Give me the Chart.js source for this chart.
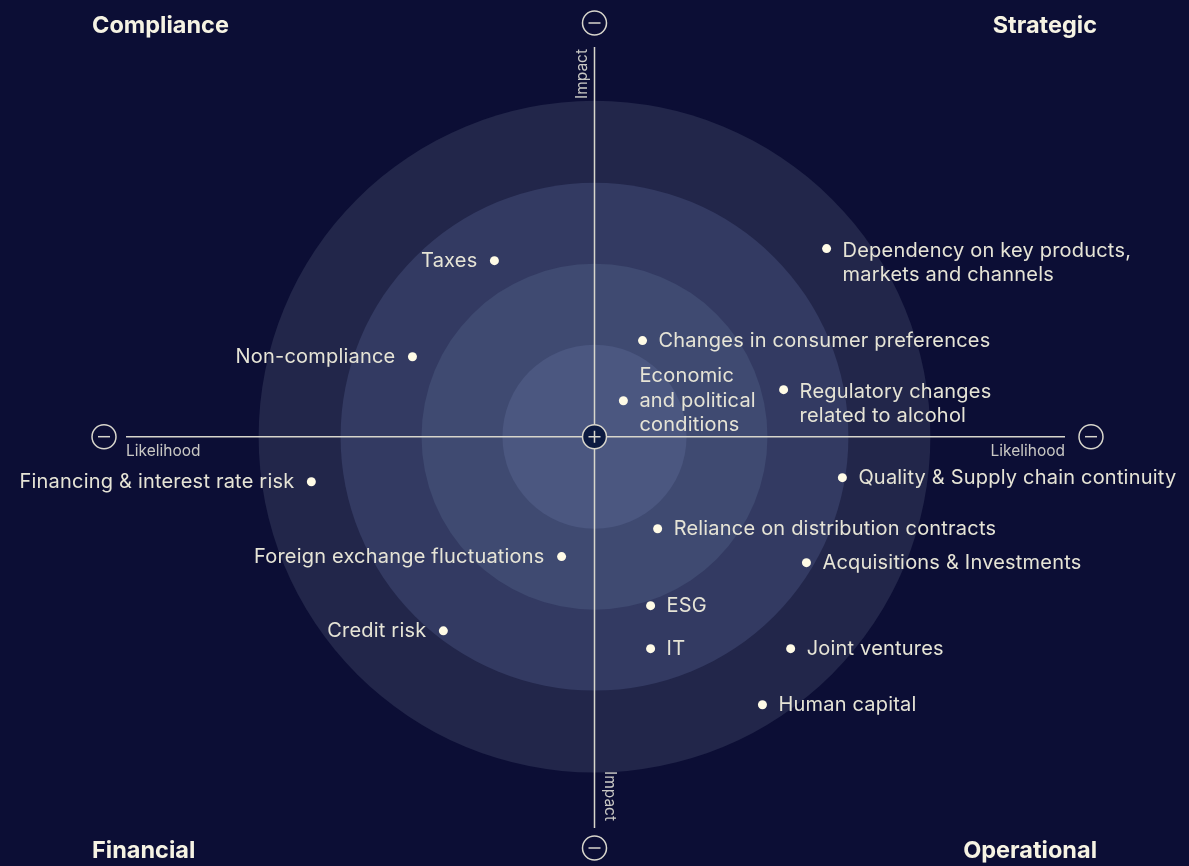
<!DOCTYPE html>
<html>
<head>
<meta charset="utf-8">
<script src="https://cdn.jsdelivr.net/npm/chart.js@4/dist/chart.umd.min.js"></script>
<style>
  html, body { margin: 0; padding: 0; background: #0c0e35; }
  #wrap { width: 1189px; height: 866px; position: relative; }
</style>
</head>
<body>
<div id="wrap"><canvas id="grafica-riscos"></canvas></div>
<script>
// risk positions: x = likelihood, y = impact, outer ring = 100
const riscos = [
    "Taxes", "Non-compliance", "Dependency on key products,\nmarkets and channels",
    "Changes in consumer preferences", "Economic\nand political\nconditions",
    "Regulatory changes\nrelated to alcohol", "Financing & interest rate risk",
    "Quality & Supply chain continuity", "Reliance on distribution contracts",
    "Foreign exchange fluctuations", "Acquisitions & Investments", "ESG",
    "Credit risk", "IT", "Joint ventures", "Human capital"
];
const probabilitat = [-29.8, -54.2, 69.1, 14.3, 8.6, 56.3, -84.3, 73.8, 18.8, -9.8, 63.1, 16.7, -45.0, 16.7, 58.4, 50.0];
const impacte = [52.4, 23.8, 56.0, 28.6, 10.7, 14.0, -13.4, -12.2, -27.4, -35.7, -37.5, -50.3, -57.8, -63.1, -63.1, -79.8];
const costatEtiqueta = ['left', 'left', 'right', 'right', 'right', 'right', 'left', 'right',
    'right', 'left', 'right', 'right', 'left', 'right', 'right', 'right'];

const anells = [100, 75.6, 51.5, 27.4];
const colorsAnells = ['#22264a', '#333a62', '#3f4a71', '#4b5780'];
const quadrants = ['Compliance', 'Strategic', 'Financial', 'Operational'];

const FONT = 'Inter, "Open Sans", sans-serif';
const TEXT = '#e6e4d6';

const pluginFons = {
    id: 'fons',
    beforeDatasetsDraw(chart) {
        const { ctx, scales: { x, y } } = chart;
        const cx = x.getPixelForValue(0);
        const cy = y.getPixelForValue(0);
        const unitat = x.getPixelForValue(1) - cx;

        ctx.save();
        anells.forEach((r, i) => {
            ctx.beginPath();
            ctx.arc(cx, cy, r * unitat, 0, Math.PI * 2);
            ctx.fillStyle = colorsAnells[i];
            ctx.fill();
        });

        // axes
        ctx.strokeStyle = '#d8d6cc';
        ctx.lineWidth = 1.5;
        ctx.beginPath();
        ctx.moveTo(126, cy); ctx.lineTo(1065, cy);
        ctx.moveTo(cx, 47); ctx.lineTo(cx, 828);
        ctx.stroke();

        // minus circles at the ends
        const cercle = (px, py, signe, ple) => {
            ctx.beginPath();
            ctx.arc(px, py, 12, 0, Math.PI * 2);
            if (ple) { ctx.fillStyle = '#0c1a40'; ctx.fill(); }
            ctx.strokeStyle = '#d8d6cc';
            ctx.lineWidth = 1.5;
            ctx.stroke();
            ctx.beginPath();
            ctx.moveTo(px - 6, py); ctx.lineTo(px + 6, py);
            if (signe === '+') { ctx.moveTo(px, py - 6); ctx.lineTo(px, py + 6); }
            ctx.stroke();
        };
        cercle(104, cy, '-');
        cercle(1091, cy, '-');
        cercle(cx, 23, '-');
        cercle(cx, 848, '-');
        cercle(cx, cy, '+', true);

        // axis titles
        ctx.fillStyle = '#c9c8c4';
        ctx.font = '15.5px ' + FONT;
        ctx.textBaseline = 'middle';
        ctx.textAlign = 'left';
        ctx.fillText('Likelihood', 126, 451);
        ctx.textAlign = 'right';
        ctx.fillText('Likelihood', 1065, 451);

        ctx.save();
        ctx.translate(582, 74);
        ctx.rotate(-Math.PI / 2);
        ctx.textAlign = 'center';
        ctx.fillText('Impact', 0, 0);
        ctx.restore();

        ctx.save();
        ctx.translate(610, 796);
        ctx.rotate(Math.PI / 2);
        ctx.textAlign = 'center';
        ctx.fillText('Impact', 0, 0);
        ctx.restore();

        // quadrant titles
        ctx.fillStyle = '#f6f3e3';
        ctx.font = 'bold 23.5px ' + FONT;
        ctx.textAlign = 'left';
        ctx.fillText(quadrants[0], 92, 26);
        ctx.fillText(quadrants[2], 92, 851);
        ctx.textAlign = 'right';
        ctx.fillText(quadrants[1], 1097, 26);
        ctx.fillText(quadrants[3], 1097, 851);
        ctx.restore();
    },
    afterDatasetsDraw(chart) {
        const { ctx } = chart;
        const meta = chart.getDatasetMeta(0);
        ctx.save();
        ctx.fillStyle = TEXT;
        ctx.font = '20px ' + FONT;
        ctx.letterSpacing = '0.2px';
        ctx.textBaseline = 'middle';
        meta.data.forEach((punt, i) => {
            const linies = riscos[i].split('\n');
            const alt = 24.5;
            const dreta = costatEtiqueta[i] === 'right';
            ctx.textAlign = dreta ? 'left' : 'right';
            const px = dreta ? punt.x + 16 : punt.x - 17;
            let y0 = punt.y - (linies.length - 1) * alt / 2;
            if (linies.length === 2) y0 = punt.y + 2;
            linies.forEach((l, j) => ctx.fillText(l, px, y0 + j * alt));
        });
        ctx.restore();
    }
};

const dades = probabilitat.map((v, i) => ({ x: v, y: impacte[i] }));

new Chart(document.getElementById('grafica-riscos'), {
    type: 'scatter',
    data: {
        datasets: [{
            label: 'Risks',
            data: dades,
            pointRadius: 4.5,
            pointHoverRadius: 4.5,
            pointBackgroundColor: '#fffbe6',
            pointBorderWidth: 0
        }]
    },
    options: {
        responsive: true,
        maintainAspectRatio: false,
        animation: false,
        layout: { padding: 0, autoPadding: false },
        scales: {
            x: { display: false, min: -177, max: 177 },
            y: { display: false, min: -127.8, max: 130 }
        },
        plugins: {
            legend: { display: false },
            tooltip: { enabled: false }
        }
    },
    plugins: [pluginFons]
});
</script>
</body>
</html>
